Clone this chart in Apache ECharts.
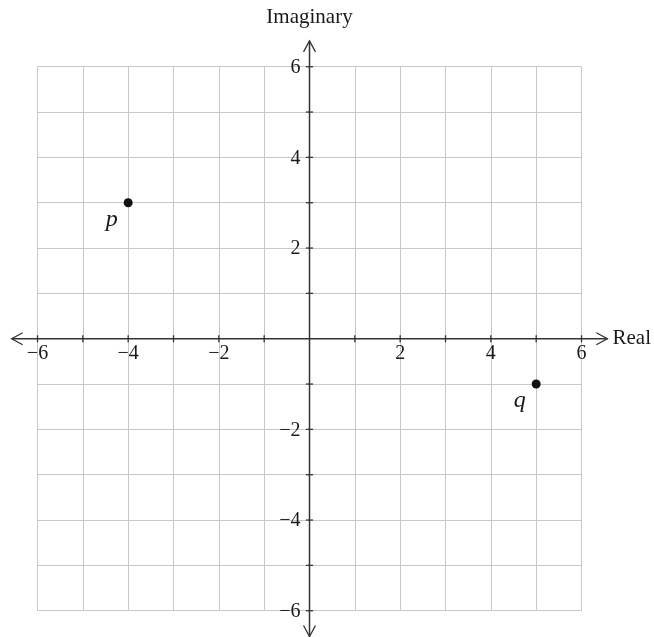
<!DOCTYPE html>
<html><head><meta charset="utf-8">
<script src="https://cdn.jsdelivr.net/npm/echarts@6/dist/echarts.min.js"></script>
<style>html,body{margin:0;padding:0;background:#fff}#c{width:654px;height:637px}</style>
</head><body><div id="c"></div>
<script>
// Data
const points = [[-4, 3], [5, -1]];
const pointLabels = ['p', 'q'];
const axisMin = -6, axisMax = 6;
const tickValues = [-6, -5, -4, -3, -2, -1, 1, 2, 3, 4, 5, 6];
const labelValues = [-6, -4, -2, 2, 4, 6];
const arrowExtent = 6.57; // axes extend slightly beyond grid
const xName = 'Real', yName = 'Imaginary';

const FONT = '"Liberation Serif", "DejaVu Serif", serif';
const fmtNum = v => (v < 0 ? '\u2212' + Math.abs(v) : String(v));

const axisSegs = [
  [-arrowExtent, 0, arrowExtent, 0],
  [0, -arrowExtent, 0, arrowExtent]
];
const tickData = [];
tickValues.forEach(v => { tickData.push([v, 0, 0]); tickData.push([0, v, 1]); });
const labelData = [];
labelValues.forEach(v => { labelData.push([v, 0, 0]); labelData.push([0, v, 1]); });

function chevron(tip, dir) {
  const L = 11, W = 6;
  const bx = tip[0] - dir[0] * L, by = tip[1] - dir[1] * L;
  const px = -dir[1], py = dir[0];
  return {
    type: 'polyline',
    shape: { points: [[bx + px * W, by + py * W], tip, [bx - px * W, by - py * W]] },
    style: { stroke: '#333', lineWidth: 1.3, fill: null }
  };
}

const hiddenLine = { show: true, onZero: true, lineStyle: { color: '#333', width: 1, opacity: 0 } };

const chart = echarts.init(document.getElementById('c'));
chart.setOption({
  animation: false,
  grid: { left: 37.5, top: 66.7, width: 544.4, height: 544 },
  xAxis: {
    type: 'value', min: axisMin, max: axisMax, interval: 1,
    axisLine: hiddenLine,
    axisTick: { show: false },
    axisLabel: { show: false },
    splitLine: { show: true, lineStyle: { color: '#c8c8c8', width: 1 } },
    name: xName, nameLocation: 'end', nameGap: 31,
    nameTextStyle: { fontFamily: FONT, fontSize: 21, color: '#1a1a1a' }
  },
  yAxis: {
    type: 'value', min: axisMin, max: axisMax, interval: 1,
    axisLine: hiddenLine,
    axisTick: { show: false },
    axisLabel: { show: false },
    splitLine: { show: true, lineStyle: { color: '#c8c8c8', width: 1 } },
    name: yName, nameLocation: 'end', nameGap: 39,
    nameTextStyle: { fontFamily: FONT, fontSize: 21, color: '#1a1a1a', align: 'center' }
  },
  series: [
    {
      type: 'custom', clip: false, silent: true, z: 3,
      data: axisSegs,
      renderItem: (params, api) => {
        const a = api.coord([api.value(0), api.value(1)]);
        const b = api.coord([api.value(2), api.value(3)]);
        const dx = b[0] - a[0], dy = b[1] - a[1];
        const len = Math.hypot(dx, dy);
        const u = [dx / len, dy / len];
        return {
          type: 'group',
          children: [
            { type: 'line', shape: { x1: a[0], y1: a[1], x2: b[0], y2: b[1] }, style: { stroke: '#333', lineWidth: 1.5 } },
            chevron(b, u),
            chevron(a, [-u[0], -u[1]])
          ]
        };
      }
    },
    {
      type: 'custom', clip: false, silent: true, z: 3,
      data: tickData,
      renderItem: (params, api) => {
        const c = api.coord([api.value(0), api.value(1)]);
        const h = 3.5;
        const vertical = api.value(2) === 0;
        return {
          type: 'line',
          shape: vertical ? { x1: c[0], y1: c[1] - h, x2: c[0], y2: c[1] + h }
                          : { x1: c[0] - h, y1: c[1], x2: c[0] + h, y2: c[1] },
          style: { stroke: '#333', lineWidth: 1.3 }
        };
      }
    },
    {
      type: 'custom', clip: false, silent: true, z: 4,
      data: labelData,
      renderItem: (params, api) => {
        const c = api.coord([api.value(0), api.value(1)]);
        const onX = api.value(2) === 0;
        const v = onX ? api.value(0) : api.value(1);
        return {
          type: 'text',
          x: onX ? c[0] : c[0] - 9,
          y: onX ? c[1] + 5 : c[1] + 1,
          style: {
            text: fmtNum(v),
            fontFamily: FONT, fontSize: 20, fill: '#1a1a1a',
            align: onX ? 'center' : 'right',
            verticalAlign: onX ? 'top' : 'middle'
          }
        };
      }
    },
    {
      type: 'scatter', z: 5,
      symbol: 'circle', symbolSize: 9,
      itemStyle: { color: '#111', opacity: 1 },
      data: points.map((p, i) => ({ value: p, name: pointLabels[i] })),
      label: {
        show: true, formatter: '{b}', position: 'left',
        offset: [-1, 17],
        fontFamily: FONT, fontStyle: 'italic', fontSize: 24, color: '#1a1a1a'
      }
    }
  ]
});
</script>
</body></html>
